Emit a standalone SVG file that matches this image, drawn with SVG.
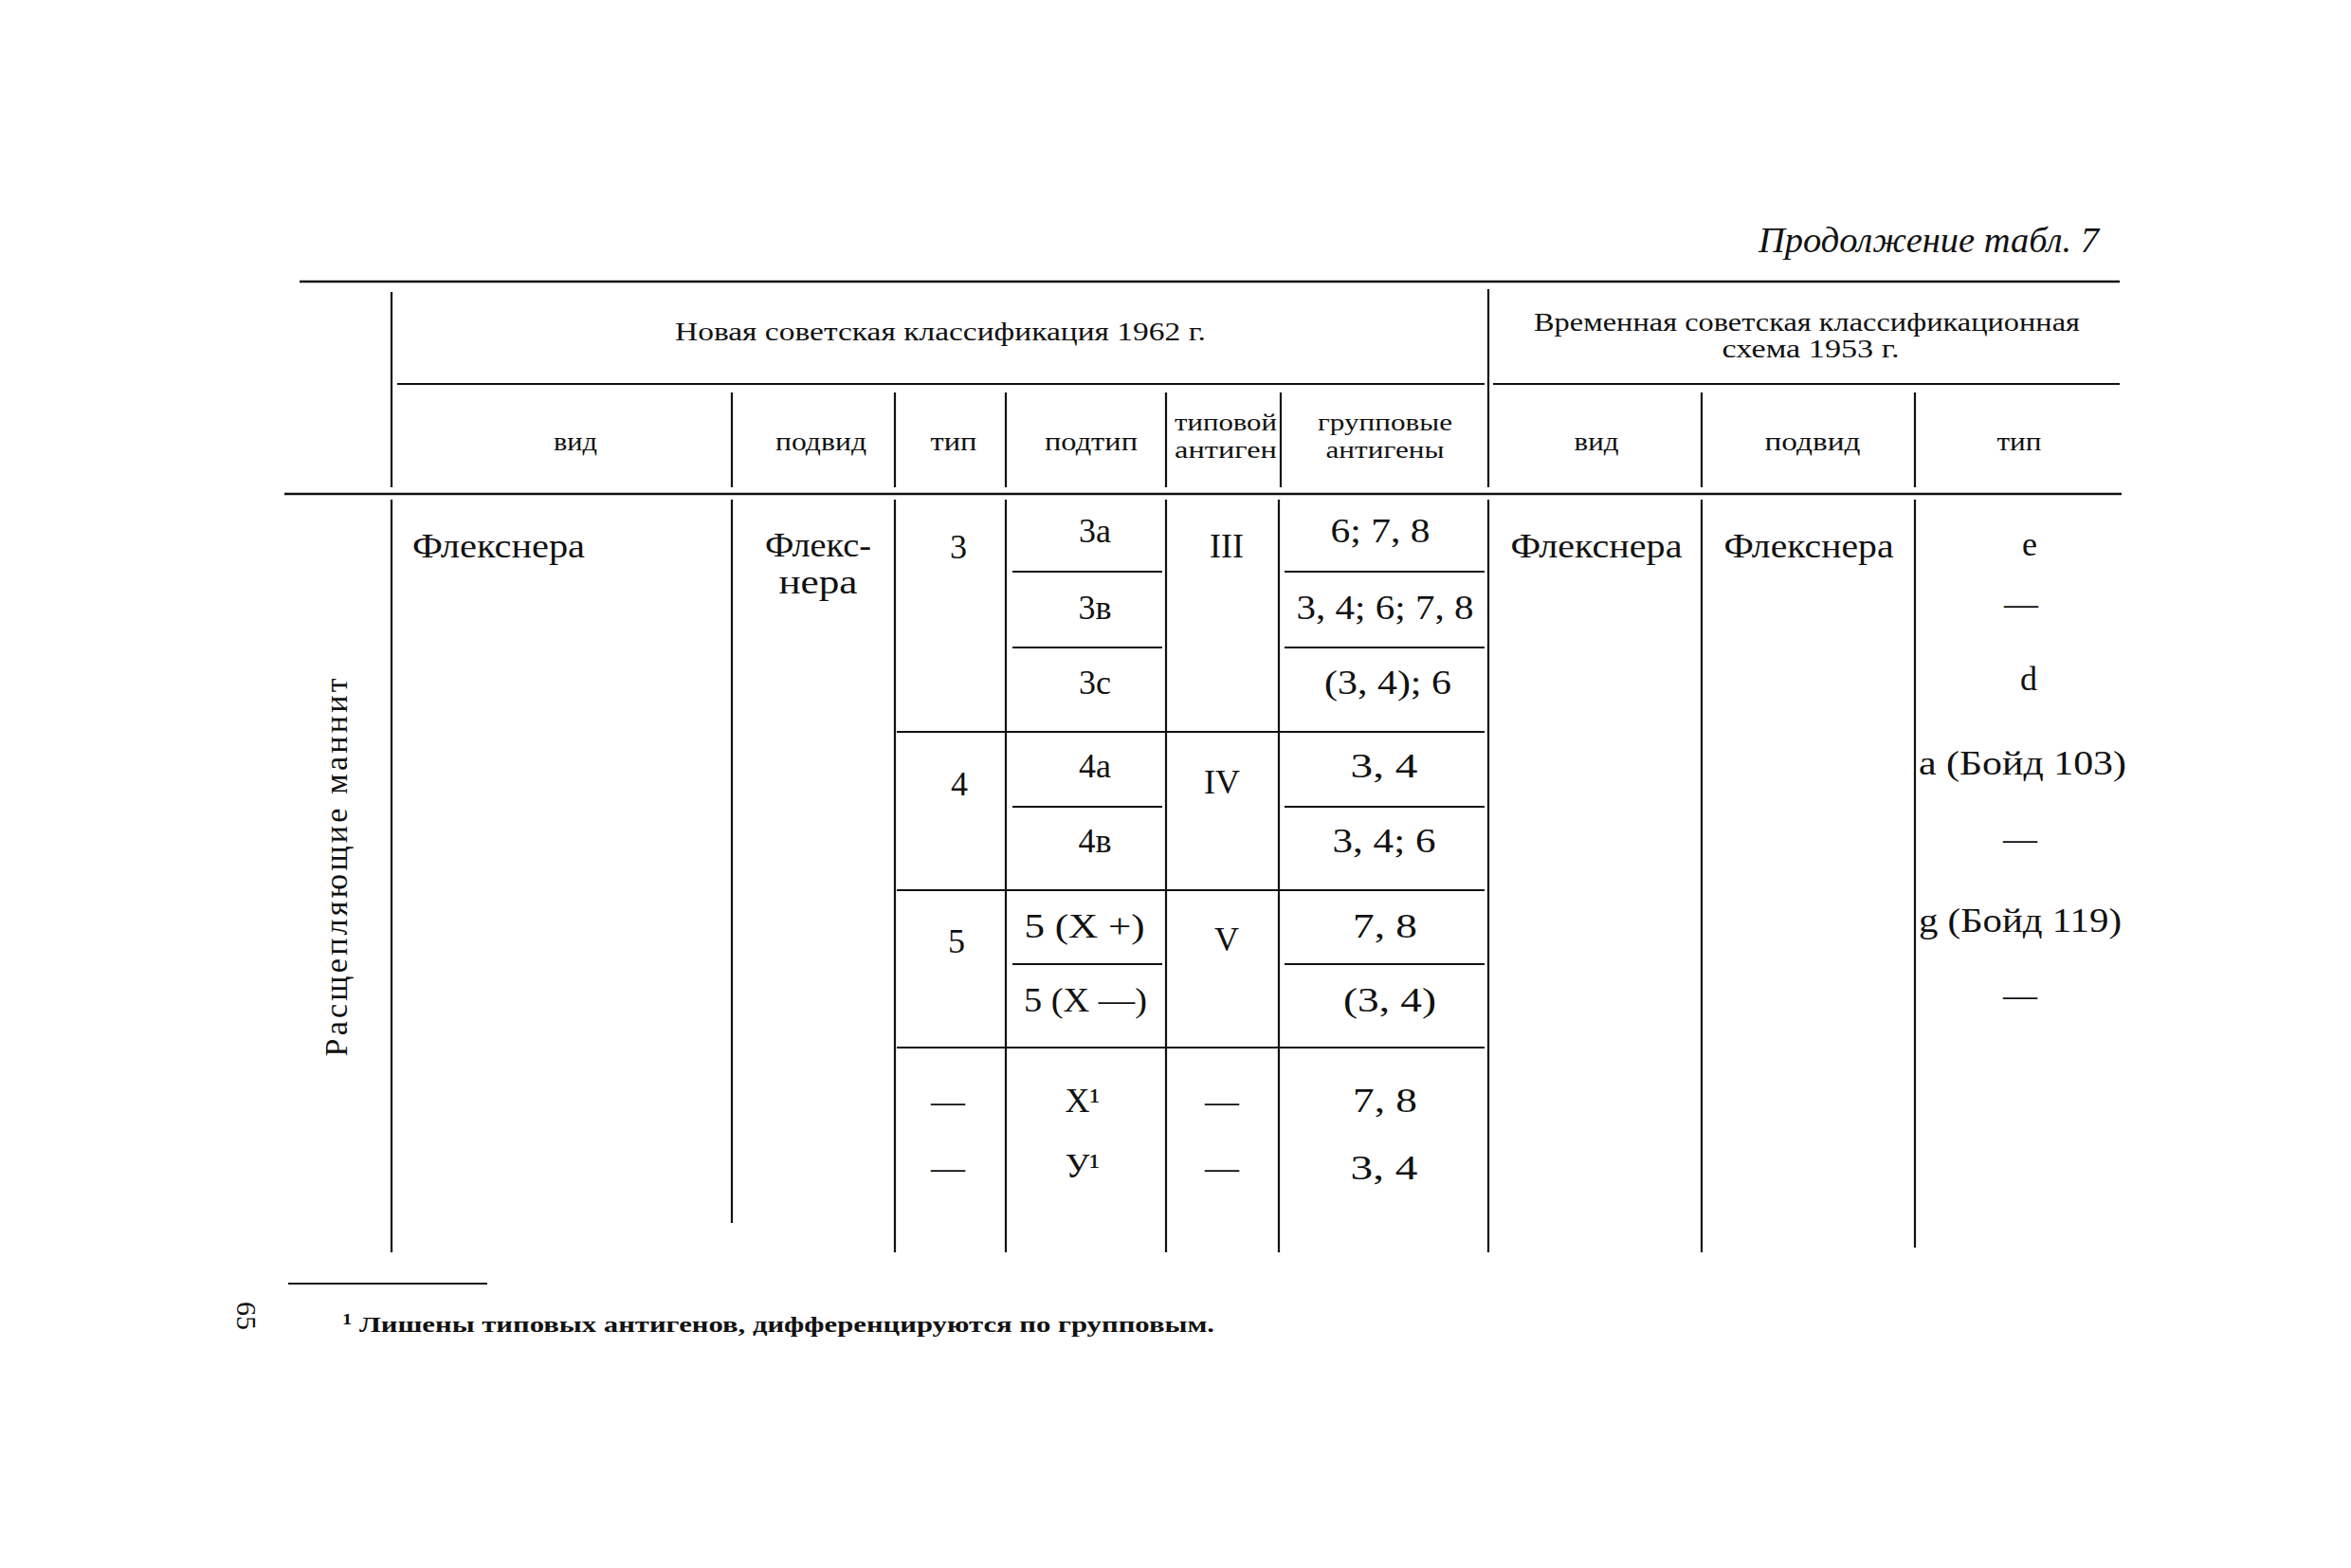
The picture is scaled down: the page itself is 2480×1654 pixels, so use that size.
<svg xmlns="http://www.w3.org/2000/svg" width="2480" height="1654" viewBox="0 0 2480 1654">
<style>
.bg{fill:#ffffff}
.rule{stroke:#111;stroke-width:2.6;fill:none}
.thin{stroke:#111;stroke-width:2.2;fill:none}
text{font-family:"Liberation Serif","DejaVu Serif",serif;fill:#111}
.h{font-size:28px;text-anchor:middle}
.h2{font-size:25px;text-anchor:middle}
.b{font-size:36px;text-anchor:middle}
.bl{font-size:36px;text-anchor:start}
.t{font-size:38px;font-style:italic;text-anchor:start}
.side{font-size:34px;text-anchor:middle;letter-spacing:4px}
.fn{font-size:24px;font-weight:bold;text-anchor:start}
</style>
<rect class="bg" x="0" y="0" width="2480" height="1654"/>

<g id="title">
<text class="t" x="1855" y="266" textLength="359" lengthAdjust="spacingAndGlyphs">Продолжение табл. 7</text>
</g>

<g id="rules">
<line class="rule" x1="316" y1="297" x2="2236" y2="297"/>
<line class="thin" x1="419" y1="405" x2="1566" y2="405"/>
<line class="thin" x1="1575" y1="405" x2="2236" y2="405"/>
<line class="rule" x1="300" y1="521" x2="2238" y2="521"/>
<!-- header verticals -->
<line class="thin" x1="413" y1="308" x2="413" y2="514"/>
<line class="thin" x1="1570" y1="305" x2="1570" y2="514"/>
<line class="thin" x1="772" y1="414" x2="772" y2="514"/>
<line class="thin" x1="944" y1="414" x2="944" y2="514"/>
<line class="thin" x1="1061" y1="414" x2="1061" y2="514"/>
<line class="thin" x1="1230" y1="414" x2="1230" y2="514"/>
<line class="thin" x1="1351" y1="414" x2="1351" y2="514"/>
<line class="thin" x1="1795" y1="414" x2="1795" y2="514"/>
<line class="thin" x1="2020" y1="414" x2="2020" y2="514"/>
<!-- body verticals -->
<line class="thin" x1="413" y1="527" x2="413" y2="1321"/>
<line class="thin" x1="772" y1="527" x2="772" y2="1290"/>
<line class="thin" x1="944" y1="527" x2="944" y2="1321"/>
<line class="thin" x1="1061" y1="527" x2="1061" y2="1321"/>
<line class="thin" x1="1230" y1="527" x2="1230" y2="1321"/>
<line class="thin" x1="1349" y1="527" x2="1349" y2="1321"/>
<line class="thin" x1="1570" y1="527" x2="1570" y2="1321"/>
<line class="thin" x1="1795" y1="527" x2="1795" y2="1321"/>
<line class="thin" x1="2020" y1="527" x2="2020" y2="1316"/>
<!-- group rules -->
<line class="thin" x1="946" y1="772" x2="1566" y2="772"/>
<line class="thin" x1="946" y1="939" x2="1566" y2="939"/>
<line class="thin" x1="946" y1="1105" x2="1566" y2="1105"/>
<!-- sub rules -->
<line class="thin" x1="1068" y1="603" x2="1226" y2="603"/>
<line class="thin" x1="1355" y1="603" x2="1566" y2="603"/>
<line class="thin" x1="1068" y1="683" x2="1226" y2="683"/>
<line class="thin" x1="1355" y1="683" x2="1566" y2="683"/>
<line class="thin" x1="1068" y1="851" x2="1226" y2="851"/>
<line class="thin" x1="1355" y1="851" x2="1566" y2="851"/>
<line class="thin" x1="1068" y1="1017" x2="1226" y2="1017"/>
<line class="thin" x1="1355" y1="1017" x2="1566" y2="1017"/>
<!-- footnote rule -->
<line class="thin" x1="304" y1="1354" x2="514" y2="1354"/>
</g>

<g id="header">
<text class="h" x="992" y="359" textLength="560" lengthAdjust="spacingAndGlyphs">Новая советская классификация 1962 г.</text>
<text class="h" x="1906" y="349" textLength="576" lengthAdjust="spacingAndGlyphs">Временная советская классификационная</text>
<text class="h" x="1910" y="377" textLength="187" lengthAdjust="spacingAndGlyphs">схема 1953 г.</text>
<text class="h" x="607" y="475" textLength="46" lengthAdjust="spacingAndGlyphs">вид</text>
<text class="h" x="866" y="475" textLength="96" lengthAdjust="spacingAndGlyphs">подвид</text>
<text class="h" x="1006" y="475" textLength="49" lengthAdjust="spacingAndGlyphs">тип</text>
<text class="h" x="1151" y="475" textLength="98" lengthAdjust="spacingAndGlyphs">подтип</text>
<text class="h2" x="1293" y="454" textLength="108" lengthAdjust="spacingAndGlyphs">типовой</text>
<text class="h2" x="1293" y="483" textLength="108" lengthAdjust="spacingAndGlyphs">антиген</text>
<text class="h2" x="1461" y="454" textLength="142" lengthAdjust="spacingAndGlyphs">групповые</text>
<text class="h2" x="1461" y="483" textLength="125" lengthAdjust="spacingAndGlyphs">антигены</text>
<text class="h" x="1684" y="475" textLength="47" lengthAdjust="spacingAndGlyphs">вид</text>
<text class="h" x="1912" y="475" textLength="101" lengthAdjust="spacingAndGlyphs">подвид</text>
<text class="h" x="2130" y="475" textLength="47" lengthAdjust="spacingAndGlyphs">тип</text>
</g>

<g id="side-label">
<text class="side" transform="translate(366,913) rotate(-90)" x="0" y="0" textLength="403" lengthAdjust="spacing">Расщепляющие маннит</text>
</g>

<g id="body">
<text class="bl" x="435" y="588" textLength="182" lengthAdjust="spacingAndGlyphs">Флекснера</text>
<text class="b" x="863" y="587" textLength="112" lengthAdjust="spacingAndGlyphs">Флекс-</text>
<text class="b" x="863" y="626" textLength="83" lengthAdjust="spacingAndGlyphs">нера</text>

<text class="b" x="1011" y="589">3</text>
<text class="b" x="1155" y="572">3а</text>
<text class="b" x="1155" y="653">3в</text>
<text class="b" x="1155" y="732">3с</text>
<text class="b" x="1294" y="588">III</text>
<text class="b" x="1456" y="572" textLength="105" lengthAdjust="spacingAndGlyphs">6; 7, 8</text>
<text class="b" x="1461" y="653" textLength="187" lengthAdjust="spacingAndGlyphs">3, 4; 6; 7, 8</text>
<text class="b" x="1464" y="732" textLength="134" lengthAdjust="spacingAndGlyphs">(3, 4); 6</text>

<text class="b" x="1012" y="839">4</text>
<text class="b" x="1155" y="820">4а</text>
<text class="b" x="1155" y="899">4в</text>
<text class="b" x="1289" y="837">IV</text>
<text class="b" x="1460" y="820" textLength="71" lengthAdjust="spacingAndGlyphs">3,  4</text>
<text class="b" x="1460" y="899" textLength="109" lengthAdjust="spacingAndGlyphs">3, 4; 6</text>

<text class="b" x="1009" y="1005">5</text>
<text class="b" x="1144" y="989" textLength="127" lengthAdjust="spacingAndGlyphs">5 (X +)</text>
<text class="b" x="1145" y="1067" textLength="130" lengthAdjust="spacingAndGlyphs">5 (X —)</text>
<text class="b" x="1294" y="1003">V</text>
<text class="b" x="1461" y="989" textLength="68" lengthAdjust="spacingAndGlyphs">7,  8</text>
<text class="b" x="1466" y="1067" textLength="98" lengthAdjust="spacingAndGlyphs">(3,  4)</text>

<text class="b" x="1000" y="1174">—</text>
<text class="b" x="1142" y="1173">X¹</text>
<text class="b" x="1289" y="1174">—</text>
<text class="b" x="1461" y="1173" textLength="68" lengthAdjust="spacingAndGlyphs">7,  8</text>
<text class="b" x="1000" y="1244">—</text>
<text class="b" x="1142" y="1242">У¹</text>
<text class="b" x="1289" y="1244">—</text>
<text class="b" x="1460" y="1244" textLength="71" lengthAdjust="spacingAndGlyphs">3,  4</text>

<text class="b" x="1684" y="588" textLength="181" lengthAdjust="spacingAndGlyphs">Флекснера</text>
<text class="b" x="1908" y="588" textLength="179" lengthAdjust="spacingAndGlyphs">Флекснера</text>

<text class="b" x="2141" y="586">e</text>
<text class="b" x="2132" y="649">—</text>
<text class="b" x="2140" y="728">d</text>
<text class="bl" x="2024" y="817" textLength="219" lengthAdjust="spacingAndGlyphs">a (Бойд 103)</text>
<text class="b" x="2131" y="897">—</text>
<text class="bl" x="2024" y="983" textLength="214" lengthAdjust="spacingAndGlyphs">g (Бойд 119)</text>
<text class="b" x="2131" y="1062">—</text>
</g>

<g id="footnote">
<text class="fn" x="361" y="1405" textLength="920" lengthAdjust="spacingAndGlyphs"><tspan font-size="16" dy="-8">1</tspan><tspan dy="8"> Лишены типовых антигенов, дифференцируются по групповым.</tspan></text>
<text transform="translate(250,1388) rotate(90)" x="0" y="0" font-size="30" text-anchor="middle">65</text>
</g>
</svg>
